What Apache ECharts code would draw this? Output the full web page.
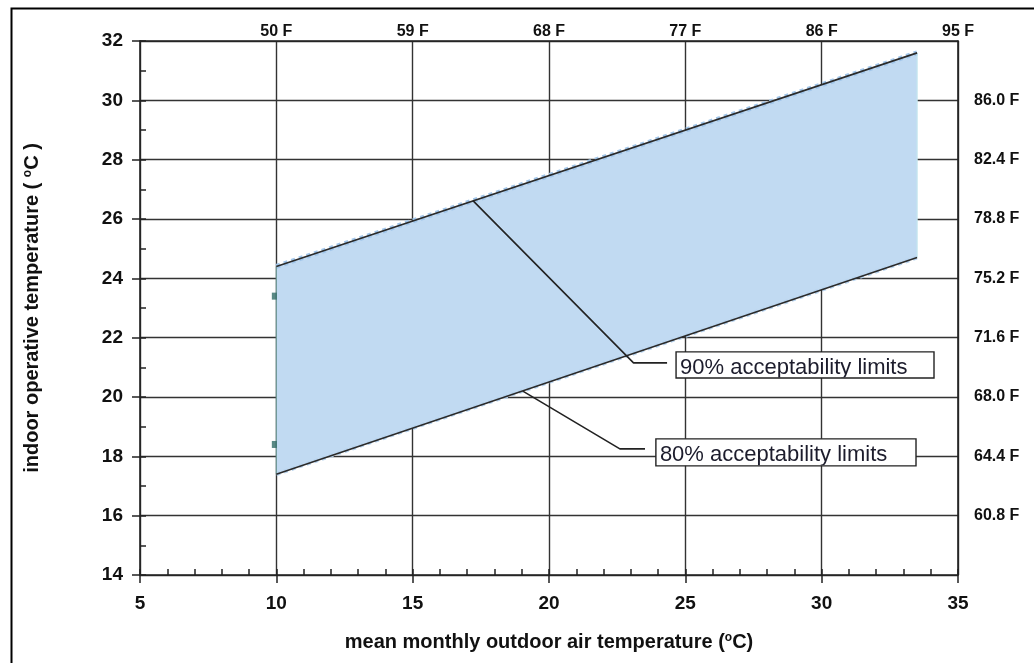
<!DOCTYPE html>
<html>
<head>
<meta charset="utf-8">
<script src="https://cdn.jsdelivr.net/npm/echarts@6/dist/echarts.min.js"></script>
<style>
  html, body { margin: 0; padding: 0; background: #fff; }
  #chart { width: 1034px; height: 663px; }
</style>
</head>
<body>
<div id="chart"></div>
<script>
// Adaptive comfort band: 80% acceptability limits vs. mean monthly outdoor temperature
const outdoorC = [10, 33.5];
const upper80 = [24.4, 31.6];
const lower80 = [17.4, 24.7];

// 90% limits at the start of the band (small markers)
const limit90X = [10, 10];
const limit90Y = [23.4, 18.4];

// Secondary (Fahrenheit) tick labels
const topTickC = [10, 15, 20, 25, 30, 35];
const topLabelsF = ['50 F', '59 F', '68 F', '77 F', '86 F', '95 F'];
const rightTickC = [16, 18, 20, 22, 24, 26, 28, 30];
const rightLabelsF = ['60.8 F', '64.4 F', '68.0 F', '71.6 F', '75.2 F', '78.8 F', '82.4 F', '86.0 F'];

// Callouts: leader polylines (data coords) and label boxes [x0, yTop, x1, yBottom]
const calloutText = ['90% acceptability limits', '80% acceptability limits'];
const leader90 = [[17.21, 26.62], [23.1, 21.15], [24.33, 21.15]];
const leader80 = [[19.04, 20.2], [22.6, 18.25], [23.52, 18.25]];
const calloutBoxes = [[24.66, 21.52, 34.12, 20.64], [23.92, 18.59, 33.46, 17.68]];

const FONT = '"Liberation Sans", Arial, Helvetica, sans-serif';
const INK = '#222';

const chart = echarts.init(document.getElementById('chart'), null, { renderer: 'canvas' });

const pairs = (xs, ys) => xs.map((x, i) => [x, ys[i]]);

const nameRich = {
  t: { fontFamily: FONT, fontWeight: 'bold', fontSize: 20, color: '#111' },
  s: { fontFamily: FONT, fontWeight: 'bold', fontSize: 12, color: '#111', verticalAlign: 'top', padding: [0, 0, 9, 0] }
};

const option = {
  animation: false,
  backgroundColor: '#fff',
  grid: { left: 140, right: 76, top: 41, bottom: 88, containLabel: false, outerBoundsMode: 'none' },
  graphic: [{
    type: 'rect', left: 9, top: 6, z: 100, silent: true,
    shape: { x: 0, y: 0, width: 1100, height: 700 },
    style: { fill: 'none', stroke: '#000', lineWidth: 2 }
  }],
  xAxis: [
    {
      type: 'value', position: 'bottom', min: 5, max: 35, interval: 5, offset: 0,
      axisLine: { show: true, onZero: false, lineStyle: { color: INK, width: 1.6 } },
      axisTick: { show: true, inside: false, length: 8, lineStyle: { color: INK, width: 1.5 } },
      axisLabel: { show: true, margin: 19, color: '#111', fontFamily: FONT, fontWeight: 'bold', fontSize: 19 },
      splitLine: { show: true, lineStyle: { color: '#333', width: 1.4 } },
      name: '{t|mean monthly outdoor air temperature (}{s|o}{t|C)}',
      nameLocation: 'middle', nameGap: 57,
      nameTextStyle: { rich: nameRich }
    },
    {
      type: 'value', position: 'bottom', min: 5, max: 35, interval: 5, offset: 0,
      axisLine: { show: false, onZero: false },
      axisTick: { show: true, inside: true, length: 6, lineStyle: { color: INK, width: 1.5 } },
      minorTick: { show: true, splitNumber: 5, length: 6, lineStyle: { color: INK, width: 1.5 } },
      axisLabel: { show: false },
      splitLine: { show: false }
    },
    {
      type: 'value', position: 'top', min: 5, max: 35, interval: 5, offset: 0,
      axisLine: { show: true, onZero: false, lineStyle: { color: INK, width: 1.6 } },
      axisTick: { show: false },
      axisLabel: {
        show: true, margin: 1, color: '#111', fontFamily: FONT, fontWeight: 'bold', fontSize: 16,
        showMaxLabel: true, showMinLabel: true,
        formatter: v => { const i = topTickC.indexOf(v); return i >= 0 ? topLabelsF[i] : ''; }
      },
      splitLine: { show: false }
    }
  ],
  yAxis: [
    {
      type: 'value', position: 'left', min: 14, max: 32, interval: 2, offset: 0,
      axisLine: { show: true, onZero: false, lineStyle: { color: INK, width: 1.6 } },
      axisTick: { show: true, inside: false, length: 8, lineStyle: { color: INK, width: 1.5 } },
      axisLabel: { show: true, margin: 17, color: '#111', fontFamily: FONT, fontWeight: 'bold', fontSize: 19 },
      splitLine: { show: true, lineStyle: { color: '#333', width: 1.4 } },
      name: '{t|indoor operative temperature ( }{s|o}{t|C )}',
      nameLocation: 'middle', nameGap: 97,
      nameTextStyle: { rich: nameRich }
    },
    {
      type: 'value', position: 'left', min: 14, max: 32, interval: 2, offset: 0,
      axisLine: { show: false, onZero: false },
      axisTick: { show: true, inside: true, length: 6, lineStyle: { color: INK, width: 1.5 } },
      minorTick: { show: true, splitNumber: 2, length: 6, lineStyle: { color: INK, width: 1.5 } },
      axisLabel: { show: false },
      splitLine: { show: false }
    },
    {
      type: 'value', position: 'right', min: 14, max: 32, interval: 2, offset: 0,
      axisLine: { show: true, onZero: false, lineStyle: { color: INK, width: 1.6 } },
      axisTick: { show: false },
      axisLabel: {
        show: true, margin: 16, color: '#111', fontFamily: FONT, fontWeight: 'bold', fontSize: 16,
        formatter: v => { const i = rightTickC.indexOf(v); return i >= 0 ? rightLabelsF[i] : ''; }
      },
      splitLine: { show: false }
    }
  ],
  series: [
    {
      // filled comfort band between the lower and upper 80% limits
      type: 'custom', name: 'band', xAxisIndex: 0, yAxisIndex: 0, z: 2,
      data: [[outdoorC[0], lower80[0]]],
      renderItem: (params, api) => {
        const pts = [];
        outdoorC.forEach((x, i) => pts.push(api.coord([x, lower80[i]])));
        for (let i = outdoorC.length - 1; i >= 0; i--) pts.push(api.coord([outdoorC[i], upper80[i]]));
        return { type: 'polygon', shape: { points: pts }, style: { fill: '#c1daf2', stroke: null } };
      },
      silent: true
    },
    {
      type: 'line', name: 'upper80 halo', xAxisIndex: 0, yAxisIndex: 0, z: 3, symbol: 'none', silent: true,
      data: pairs(outdoorC, upper80),
      lineStyle: { color: '#a2c6ea', width: 5, type: [4, 4] }
    },
    {
      type: 'line', name: 'lower80 halo', xAxisIndex: 0, yAxisIndex: 0, z: 3, symbol: 'none', silent: true,
      data: pairs(outdoorC, lower80),
      lineStyle: { color: '#b7d3ee', width: 4, type: [4, 4] }
    },
    {
      type: 'line', name: 'band left edge', xAxisIndex: 0, yAxisIndex: 0, z: 3, symbol: 'none', silent: true,
      data: [[outdoorC[0], lower80[0]], [outdoorC[0], upper80[0]]],
      lineStyle: { color: '#6f9896', width: 1.2 }
    },
    {
      type: 'line', name: 'band right edge', xAxisIndex: 0, yAxisIndex: 0, z: 3, symbol: 'none', silent: true,
      data: [[outdoorC[1], lower80[1]], [outdoorC[1], upper80[1]]],
      lineStyle: { color: '#c4e6ee', width: 1.2 }
    },
    {
      type: 'line', name: 'upper 80%', xAxisIndex: 0, yAxisIndex: 0, z: 4, symbol: 'none', silent: true,
      data: pairs(outdoorC, upper80),
      lineStyle: { color: '#2a2a2a', width: 1.6 }
    },
    {
      type: 'line', name: 'lower 80%', xAxisIndex: 0, yAxisIndex: 0, z: 4, symbol: 'none', silent: true,
      data: pairs(outdoorC, lower80),
      lineStyle: { color: '#2a2a2a', width: 1.6 }
    },
    {
      type: 'scatter', name: '90% limits', xAxisIndex: 0, yAxisIndex: 0, z: 5, silent: true,
      data: pairs(limit90X, limit90Y),
      symbol: 'rect', symbolSize: [5, 7], symbolOffset: [-2, 0],
      itemStyle: { color: '#2f6b66' }
    },
    {
      type: 'line', name: 'leader 90', xAxisIndex: 0, yAxisIndex: 0, z: 6, symbol: 'none', silent: true,
      data: leader90, lineStyle: { color: INK, width: 1.6 }
    },
    {
      type: 'line', name: 'leader 80', xAxisIndex: 0, yAxisIndex: 0, z: 6, symbol: 'none', silent: true,
      data: leader80, lineStyle: { color: INK, width: 1.6 }
    },
    {
      type: 'custom', name: 'callouts', xAxisIndex: 0, yAxisIndex: 0, z: 7, silent: true, clip: false,
      data: calloutBoxes,
      encode: { x: [0, 2], y: [1, 3] },
      renderItem: (params, api) => {
        const b = calloutBoxes[params.dataIndex];
        const p0 = api.coord([b[0], b[1]]);
        const p1 = api.coord([b[2], b[3]]);
        const w = p1[0] - p0[0], h = p1[1] - p0[1];
        const tx = 4, ty = h / 2 + 3;
        return {
          type: 'group',
          x: p0[0], y: p0[1],
          children: [
            { type: 'rect', shape: { x: 0, y: 0, width: w, height: h },
              style: { fill: '#fff', stroke: '#222', lineWidth: 1.4 } },
            { type: 'text', x: tx, y: ty,
              style: { text: calloutText[params.dataIndex], font: 'normal 22px ' + FONT,
                       fill: '#1c1c2c', verticalAlign: 'middle', align: 'left' },
              // text is cut at the box bottom; clip rect is in the text's local frame
              clipPath: { type: 'rect', shape: { x: -tx, y: -ty, width: w, height: h - 0.5 } } }
          ]
        };
      }
    }
  ]
};

chart.setOption(option);
</script>
</body>
</html>
